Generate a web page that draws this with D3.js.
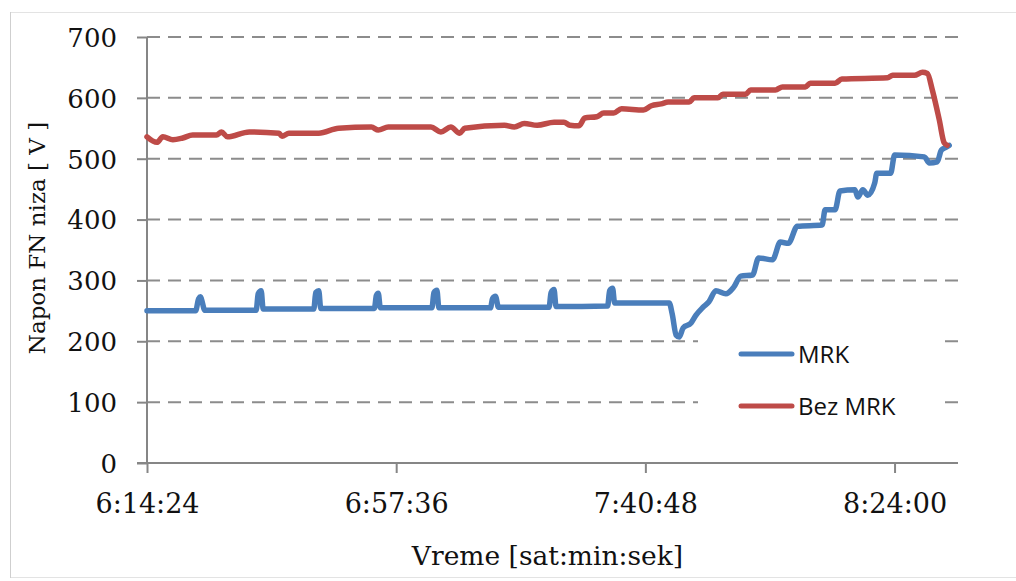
<!DOCTYPE html>
<html lang="en">
<head>
<meta charset="UTF-8">
<title>Napon FN niza</title>
<script src="https://d3js.org/d3.v7.min.js"></script>
<style>
    body{ margin:0; background:#fff; }
    svg{ display:block; }
    .tick text{ font-family:"DejaVu Serif", serif; }
</style>
</head>
<body>
<script>
// time axis: minutes elapsed since 6:14:24
const startTime = "6:14:24"
const tickLabels = ["6:14:24", "6:57:36", "7:40:48", "8:24:00"]
const yTicks = [0, 100, 200, 300, 400, 500, 600, 700]
const seriesNames = ["MRK", "Bez MRK"]

const mrkMin = [0, 8.43, 8.95, 9.29, 9.64, 9.98, 18.93, 19.28, 19.79, 20.14, 28.92, 29.26, 29.78, 30.12,
    39.42, 39.76, 40.10, 40.45, 49.40, 49.74, 50.26, 50.60, 59.55, 59.90, 60.41, 60.93,
    69.71, 70.05, 70.57, 70.91, 79.86, 80.21, 80.72, 81.07, 90.54, 91.05, 91.74, 92.26, 92.94,
    94.32, 95.18, 96.39, 97.42, 98.62, 100.35, 101.72, 102.93, 104.99, 106.03, 108.44, 109.81,
    111.19, 112.74, 117.04, 117.56, 119.28, 120.14, 122.72, 123.24, 124.10, 124.96, 126.16,
    126.51, 128.92, 129.61, 134.77, 135.63, 137.01, 137.70, 138.56, 139.07]
const mrkVal = [250, 250, 270, 273, 262, 251, 251, 278, 283, 253, 253, 280, 283, 254,
    254, 275, 279, 255, 255, 280, 284, 255, 255, 270, 274, 256,
    256, 280, 285, 257, 258, 283, 287, 263, 263, 245, 210, 207, 222,
    230, 243, 256, 265, 283, 278, 289, 307, 309, 337, 334, 363,
    361, 389, 391, 416, 416, 447, 449, 437, 449, 440, 460,
    476, 476, 506, 503, 493, 495, 514, 519, 522]

const bezMin = [0, 1.72, 2.75, 4.48, 6.20, 7.92, 12.05, 12.91, 13.94, 17.73, 22.89, 23.41, 24.61,
    29.78, 33.22, 38.90, 40.10, 41.83, 49.23, 50.95, 52.67, 54.22, 55.08, 61.96, 63.68, 65.41,
    67.64, 70.57, 72.29, 73.32, 74.87, 75.90, 77.97, 79.18, 80.90, 82.27, 86.06, 87.44, 89.16,
    90.36, 93.98, 94.84, 98.97, 99.83, 103.79, 104.65, 108.95, 110.16, 114.12, 114.98, 119.28,
    120.48, 128.40, 129.26, 133.05, 134.43, 135.29, 136.15, 137.35, 138.21, 138.73]
const bezVal = [536, 527, 536, 531, 534, 539, 539, 544, 536, 544, 542, 537, 542,
    542, 550, 552, 547, 552, 552, 544, 552, 542, 550, 555, 552, 558,
    555, 560, 560, 555, 554, 567, 569, 575, 575, 582, 580, 587, 590,
    593, 593, 600, 600, 606, 606, 613, 613, 618, 618, 624, 624,
    631, 633, 637, 637, 642, 640, 613, 564, 526, 522]

const width = 1016, height = 581
const margin = {top:37, right:58, bottom:118, left:147}
const colors = ["#4a7ebb", "#be4b48"]

const parseT = d3.timeParse("%H:%M:%S")
const t0 = parseT(startTime)
const toDate = m => new Date(t0.getTime() + m*60000)

const svg = d3.select("body").append("svg")
    .attr("width", width).attr("height", height)

// outer chart frame
svg.append("rect")
    .attr("x", 10.5).attr("y", 12.5)
    .attr("width", width + 10).attr("height", 565)
    .attr("fill", "none").attr("stroke", "#e3e3e3")
svg.append("line")
    .attr("x1", 10.5).attr("x2", 10.5).attr("y1", 12).attr("y2", 578)
    .attr("stroke", "#cfcfcf")

const xScale = d3.scaleTime()
    .domain([toDate(0), toDate(140.6)])
    .range([margin.left, width - margin.right])
const yScale = d3.scaleLinear()
    .domain([0, 700])
    .range([height - margin.bottom, margin.top])

// grid
svg.append("g")
    .selectAll("line")
    .data(yTicks.filter(d => d > 0))
    .join("line")
    .attr("x1", margin.left).attr("x2", width - margin.right)
    .attr("y1", d => yScale(d)).attr("y2", d => yScale(d))
    .attr("stroke", "#8c8c8c").attr("stroke-width", 2)
    .attr("stroke-dasharray", "13,8")

const tickDates = tickLabels.map(s => parseT(s))

const xAxis = svg.append("g")
    .attr("transform", `translate(0,${height - margin.bottom})`)
    .call(d3.axisBottom(xScale).tickValues(tickDates).tickSize(10).tickPadding(21)
        .tickFormat(d3.timeFormat("%-H:%M:%S")))
xAxis.select(".domain").attr("stroke", "#868686").attr("stroke-width", 2)
    .attr("d", `M${margin.left - 10},0H${width - margin.right}`)
xAxis.selectAll(".tick line").attr("stroke", "#868686").attr("stroke-width", 2)
xAxis.selectAll(".tick text").attr("font-size", 27).attr("fill", "#111")

const yAxis = svg.append("g")
    .attr("transform", `translate(${margin.left},0)`)
    .call(d3.axisLeft(yScale).tickValues(yTicks).tickSize(10).tickPadding(20))
yAxis.select(".domain").attr("stroke", "#868686").attr("stroke-width", 2)
    .attr("d", `M0,${margin.top}V${height - margin.bottom}`)
yAxis.selectAll(".tick line").attr("stroke", "#868686").attr("stroke-width", 2)
yAxis.selectAll(".tick text").attr("font-size", 26).attr("fill", "#111")
    .attr("dy", "0.36em")

// lines
const line = d3.line()
    .x(d => xScale(toDate(d[0])))
    .y(d => yScale(d[1]))
    .curve(d3.curveMonotoneX)

const series = [d3.zip(mrkMin, mrkVal), d3.zip(bezMin, bezVal)]
series.forEach((s, i) => {
    svg.append("path")
        .datum(s)
        .attr("d", line)
        .attr("fill", "none")
        .attr("stroke", colors[i])
        .attr("stroke-width", 5.5)
        .attr("stroke-linejoin", "round")
        .attr("stroke-linecap", "round")
})

// legend
const legend = svg.append("g")
legend.append("rect")
    .attr("x", 698).attr("y", 322).attr("width", 247).attr("height", 103)
    .attr("fill", "#fff")
seriesNames.forEach((name, i) => {
    const y = 354 + i*52
    legend.append("line")
        .attr("x1", 741).attr("x2", 792).attr("y1", y).attr("y2", y)
        .attr("stroke", colors[i]).attr("stroke-width", 5)
        .attr("stroke-linecap", "round")
    legend.append("text")
        .attr("x", 798).attr("y", y + 9)
        .attr("font-family", "Open Sans, sans-serif")
        .attr("font-size", 24)
        .attr("fill", "#111")
        .text(name)
})

// axis titles
svg.append("text")
    .attr("x", (margin.left + width - margin.right)/2 - 5)
    .attr("y", 565)
    .attr("text-anchor", "middle")
    .attr("font-family", "DejaVu Serif, serif")
    .attr("font-size", 26.5)
    .attr("fill", "#111")
    .text("Vreme [sat:min:sek]")

svg.append("text")
    .attr("transform", "translate(45,238) rotate(-90)")
    .attr("text-anchor", "middle")
    .attr("font-family", "DejaVu Serif, serif")
    .attr("font-size", 23)
    .attr("fill", "#111")
    .text("Napon FN niza [ V ]")
</script>
</body>
</html>
